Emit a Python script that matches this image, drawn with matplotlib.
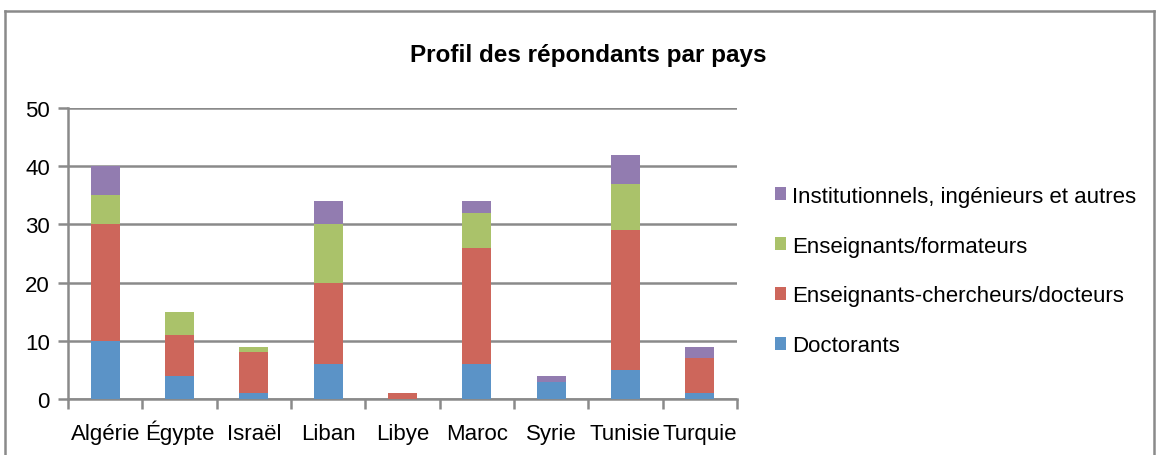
import matplotlib.pyplot as plt
import numpy as np
from matplotlib.ticker import MultipleLocator

plt.rcParams['font.family'] = ['Liberation Sans', 'DejaVu Sans']

pays = ['Algérie', 'Égypte', 'Israël', 'Liban', 'Libye', 'Maroc', 'Syrie', 'Tunisie', 'Turquie']
doctorants = [10, 4, 1, 6, 0, 6, 3, 5, 1]
ens_chercheurs = [20, 7, 7, 14, 1, 20, 0, 24, 6]
ens_formateurs = [5, 4, 1, 10, 0, 6, 0, 8, 0]
institutionnels = [5, 0, 0, 4, 0, 2, 1, 5, 2]

series = [
    ('Doctorants', doctorants, '#5B93C7'),
    ('Enseignants-chercheurs/docteurs', ens_chercheurs, '#CD665B'),
    ('Enseignants/formateurs', ens_formateurs, '#AAC26A'),
    ('Institutionnels, ingénieurs et autres', institutionnels, '#927CB0'),
]

fig = plt.figure(figsize=(11.58, 4.56), dpi=100)
ax = fig.add_axes([68/1158, 1-400/456, (737-68)/1158, (400-109)/456])

x = np.arange(len(pays))
bottom = np.zeros(len(pays))
handles = []
for name, vals, col in series:
    b = ax.bar(x, vals, 0.39, bottom=bottom, color=col, label=name, zorder=3)
    handles.append(b)
    bottom += np.array(vals)

grey = '#8a8a8a'
ax.set_ylim(0, 50)
ax.set_xlim(-0.5, len(pays) - 0.5)
ax.yaxis.set_major_locator(MultipleLocator(10))
ax.grid(axis='y', color=grey, linewidth=1.8, zorder=0)
ax.set_xticks(x)
ax.set_xticklabels(pays, fontsize=16, va='baseline')
ax.set_xticks(np.arange(-0.5, len(pays)), minor=True)
ax.tick_params(axis='x', which='major', length=0, pad=29)
ax.tick_params(axis='x', which='minor', length=7, width=1.8, color=grey)
ax.tick_params(axis='y', length=7, width=1.8, color=grey, labelsize=16, pad=6)
for s in ['top', 'right']:
    ax.spines[s].set_visible(False)
for s in ['left', 'bottom']:
    ax.spines[s].set_color(grey)
    ax.spines[s].set_linewidth(1.8)

fig.text(0.508, 1-56/456, 'Profil des répondants par pays', ha='center', va='center',
         fontsize=17.5, fontweight='bold')

fig.legend(handles[::-1], [s[0] for s in series][::-1], loc='center left',
           bbox_to_anchor=(755/1158, 1-272/456), frameon=False, fontsize=16,
           handlelength=0.5, handleheight=0.5, handletextpad=0.25, labelspacing=1.3)

# outer chart frame
fig.add_artist(plt.Line2D([5/1158, 5/1158], [0, 1-12/456], color=grey, lw=1.8))
fig.add_artist(plt.Line2D([5/1158, 1154/1158], [1-12/456, 1-12/456], color=grey, lw=1.8))
fig.add_artist(plt.Line2D([1154/1158, 1154/1158], [0, 1-12/456], color=grey, lw=1.8))

fig.savefig('out.png', dpi=100)
